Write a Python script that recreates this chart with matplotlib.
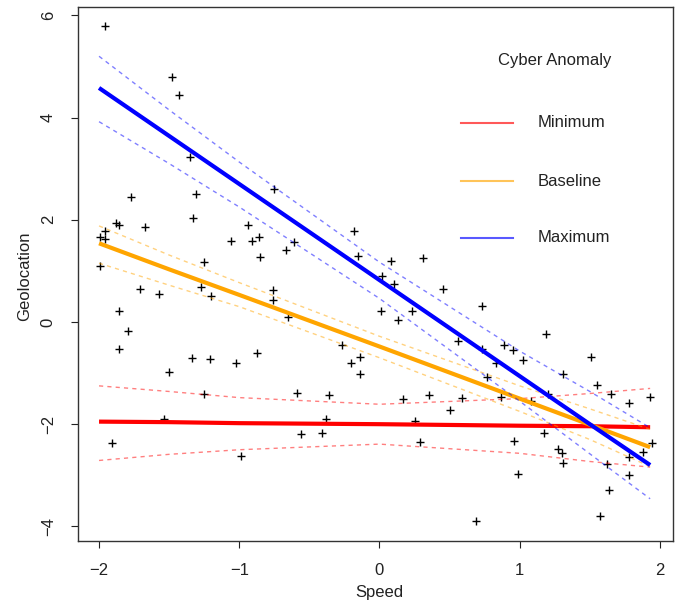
import matplotlib
matplotlib.use("Agg")
import matplotlib.pyplot as plt

plt.rcParams['font.family'] = ['Liberation Sans', 'DejaVu Sans']

# scatter points (Speed, Geolocation)
speed = [-1.96, -1.48, -1.43, -1.35, -1.31, -1.77, -1.33, -0.75, -1.88, -1.86,
         -1.96, -1.99, -1.96, -1.67, -0.94, -0.86, -0.91, -1.06, -0.85, -1.25,
         -1.99, -0.18, -0.61, -0.67, -0.15, 0.08, 0.31, -1.71, -1.57, -1.27,
         -1.20, -0.76, -0.76, -1.86, -1.79, -1.86, -1.34, -1.21, -1.02, -0.87,
         -1.50, -1.25, -1.54, -1.91, -0.99, 0.02, 0.10, 0.45, 0.01, 0.23,
         0.13, -0.65, 0.56, -0.27, -0.14, -0.20, -0.14, -0.59, -0.36, 0.17,
         0.35, 0.59, 0.50, -0.38, 0.25, -0.56, -0.41, 0.29, 0.69, 0.73,
         1.19, 0.89, 0.95, 0.73, 1.02, 0.83, 0.77, 1.51, 1.31, 1.55,
         1.65, 1.20, 0.87, 1.78, 1.93, 1.08, 1.17, 0.96, 1.27, 1.30,
         1.31, 1.62, 1.78, 1.88, 1.94, 1.78, 1.64, 0.99, 1.57]
geo = [5.79, 4.79, 4.44, 3.22, 2.50, 2.44, 2.04, 2.60, 1.94, 1.89,
       1.79, 1.67, 1.62, 1.85, 1.89, 1.66, 1.59, 1.59, 1.28, 1.17,
       1.10, 1.79, 1.57, 1.41, 1.30, 1.19, 1.26, 0.65, 0.54, 0.68,
       0.50, 0.63, 0.43, 0.22, -0.18, -0.53, -0.70, -0.72, -0.81, -0.61,
       -0.98, -1.40, -1.90, -2.36, -2.62, 0.90, 0.74, 0.65, 0.22, 0.22,
       0.04, 0.09, -0.37, -0.46, -0.69, -0.81, -1.01, -1.38, -1.43, -1.51,
       -1.43, -1.48, -1.72, -1.90, -1.94, -2.19, -2.17, -2.34, -3.89, 0.32,
       -0.24, -0.46, -0.55, -0.53, -0.74, -0.81, -1.07, -0.69, -1.02, -1.23,
       -1.40, -1.41, -1.47, -1.58, -1.46, -1.54, -2.18, -2.32, -2.49, -2.57,
       -2.75, -2.77, -2.65, -2.54, -2.37, -2.99, -3.29, -2.97, -3.79]

# fitted lines and confidence bands at a few Speed values
band_x = [-2.0, -1.5, -1.0, 0.0, 1.0, 1.5, 1.93]

min_fit = [-1.95, -1.96, -1.98, -2.00, -2.03, -2.04, -2.06]
min_hi = [-1.25, -1.36, -1.48, -1.61, -1.50, -1.40, -1.30]
min_lo = [-2.71, -2.59, -2.50, -2.39, -2.57, -2.73, -2.84]

base_fit = [1.54, 1.03, 0.53, -0.48, -1.50, -2.01, -2.45]
base_hi = [1.88, 1.31, 0.77, -0.28, -1.25, -1.70, -2.10]
base_lo = [1.15, 0.72, 0.30, -0.70, -1.75, -2.30, -2.83]

max_fit = [4.58, 3.64, 2.70, 0.82, -1.06, -2.00, -2.80]
max_hi = [5.20, 4.15, 3.13, 1.17, -0.57, -1.36, -2.07]
max_lo = [3.92, 3.10, 2.25, 0.46, -1.55, -2.58, -3.46]

groups = ["Minimum", "Baseline", "Maximum"]
colors = ["#FF0000", "#FFA500", "#0000FF"]

fig = plt.figure(figsize=(6.78, 6.03), dpi=100)
ax = fig.add_axes([78 / 678, 62 / 603, 595 / 678, 534 / 603])

ax.plot(speed, geo, linestyle="none", marker="+", color="black",
        markersize=6, markeredgewidth=1.0)

fits = [(min_fit, min_hi, min_lo), (base_fit, base_hi, base_lo),
        (max_fit, max_hi, max_lo)]
for (fit, hi, lo), col in zip(fits, colors):
    ax.plot(band_x, hi, color=col, alpha=0.5, lw=1, linestyle=(0, (3, 3)))
    ax.plot(band_x, lo, color=col, alpha=0.5, lw=1, linestyle=(0, (3, 3)))
    ax.plot(band_x, fit, color=col, lw=3, solid_capstyle="butt")

ax.set_xlim(-2.15, 2.093)
ax.set_ylim(-4.286, 6.164)
ax.set_xticks([-2, -1, 0, 1, 2])
ax.set_yticks([-4, -2, 0, 2, 4, 6])
ax.set_xticklabels(["\u22122", "\u22121", "0", "1", "2"])
ax.set_yticklabels(["\u22124", "\u22122", "0", "2", "4", "6"],
                   rotation=90, va="center")
ax.tick_params(length=5, width=0.8, labelsize=12, colors="#222222", pad=11)
for s in ax.spines.values():
    s.set_linewidth(1)
    s.set_color("#333333")

fig.text(379 / 678, 1 - 592 / 603, "Speed", ha="center", va="center",
         fontsize=12, color="#222222")
fig.text(25 / 678, 1 - 276 / 603, "Geolocation", ha="center", va="center",
         rotation=90, fontsize=12, color="#222222")

# legend drawn by hand in axes coordinates
ax.text(0.801, 0.899, "Cyber Anomaly", transform=ax.transAxes,
        ha="center", va="center", fontsize=12, color="#222222")
for name, col, yy in zip(groups, colors, [0.783, 0.674, 0.568]):
    ax.plot([0.644, 0.731], [yy, yy], transform=ax.transAxes,
            color=col, alpha=0.65, lw=1.5)
    ax.text(0.773, yy, name, transform=ax.transAxes, ha="left",
            va="center", fontsize=12, color="#222222")

fig.savefig("out.png", dpi=100)
